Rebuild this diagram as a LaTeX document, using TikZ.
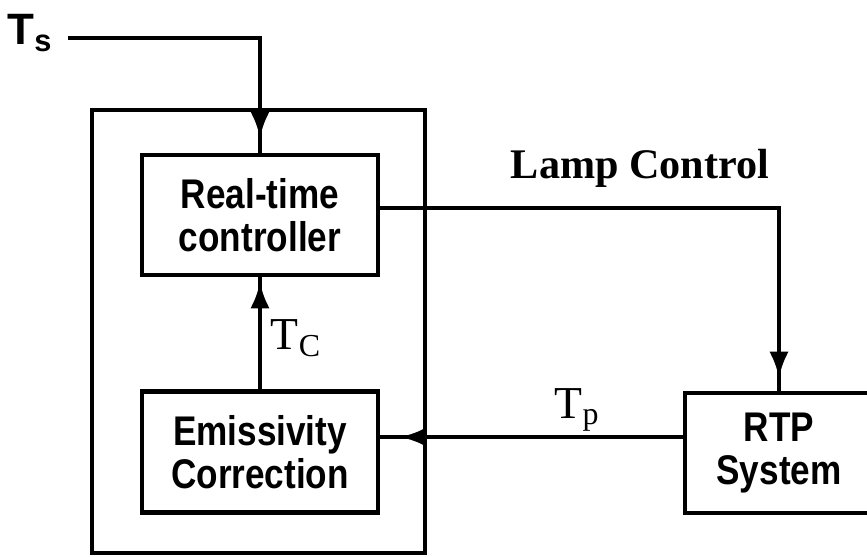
\documentclass[tikz,border=0pt]{standalone}
\usepackage{graphicx}
\usepackage{fontspec}
\setmainfont{Liberation Sans}
\newfontfamily\serifx{Liberation Serif}
\usetikzlibrary{arrows.meta,decorations.markings}
\newcommand{\tallword}[1]{\scalebox{1}[1.18]{#1}}
\tikzset{
  block/.style={draw, line width=2.3pt, minimum width=4.72cm, minimum height=2.4cm,
    align=center, font=\bfseries\fontsize{20}{24.5}\selectfont},
  wire/.style={line width=2.5pt},
  tipat/.style={decoration={markings,
    mark=at position #1 with {\arrow{Latex[length=15pt,width=11pt]}}},
    postaction={decorate}},
  lbl/.style={font=\serifx\fontsize{26}{26}\selectfont},
}
\begin{document}
\begin{tikzpicture}[x=0.02cm, y=-0.02cm]
    \useasboundingbox (0,0) rectangle (867,557);

    % Outer frame
    \draw[line width=2.3pt] (92,110) rectangle (425,553);

    % Blocks
    \node[block] (ctrl) at (260,215) {\tallword{Real-time}\\\tallword{controller}};
    \node[block, minimum height=2.42cm] (emis) at (260,452) {\tallword{Emissivity}\\\tallword{Correction}};
    \node[block, minimum width=3.76cm] (rtp) at (779,453) {\tallword{RTP}\\\tallword{System}};

    % Setpoint
    \node[font=\bfseries\fontsize{25}{25}\selectfont, anchor=base] (ts) at (30,45) {T\textsubscript{s}};
    \coordinate (tsin) at (68,38);
    \draw[wire, tipat=-0.3cm] (tsin) -| (ctrl.north);

    % Lamp control
    \draw[wire, tipat=-0.26cm] ([yshift=0.14cm]ctrl.east) -| (rtp.north);
    \node[font=\serifx\bfseries\fontsize{24}{24}\selectfont] (lamp) at (640,168) {Lamp Control};

    % Measured temperature
    \coordinate (tpout) at ([yshift=0.32cm]rtp.west);
    \draw[wire, tipat=-0.4cm] (tpout) -- (tpout -| emis.east);
    \node[lbl] (tp) at (577,410) {T\textsubscript{p}};

    % Corrected temperature
    \draw[wire, tipat=-0.1cm] (emis.north) -- (ctrl.south);
    \node[lbl] (tc) at (296,338) {T\textsubscript{C}};
\end{tikzpicture}
\end{document}
